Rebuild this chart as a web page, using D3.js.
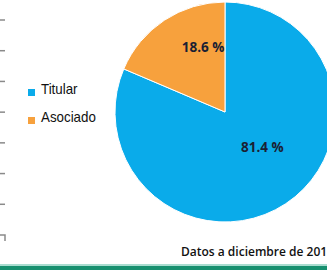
<!DOCTYPE html>
<html>
<head>
<meta charset="utf-8">
<script src="https://cdn.jsdelivr.net/npm/d3@7"></script>
<style>
  body { margin: 0; background: #fff; }
  svg { display: block; }
</style>
</head>
<body>
<div id="chart"></div>
<script>
// datos del gráfico
const categories = ["Titular", "Asociado"];
const values = [81.4, 18.6];
const colors = ["#0aabea", "#f7a13d"];
const caption = "Datos a diciembre de 201";

const width = 327;
const height = 270;

const svg = d3.select("#chart")
    .append("svg")
    .attr("width", width)
    .attr("height", height);

// marcas del eje a la izquierda (restos del gráfico original)
const tickScale = d3.scaleLinear().domain([0, 7]).range([20, 235]);
svg.append("g")
    .selectAll("line")
    .data(d3.range(7))
    .enter()
    .append("line")
    .attr("x1", 0)
    .attr("x2", 5)
    .attr("y1", (d) => tickScale(d))
    .attr("y2", (d) => tickScale(d))
    .style("stroke", "#8a8a8a")
    .style("stroke-width", 1.5);
svg.append("path")
    .attr("d", `M0,${tickScale(7)}H5V${tickScale(7) + 6}`)
    .style("fill", "none")
    .style("stroke", "#8a8a8a")
    .style("stroke-width", 1.5);

// pastel
const cx = 225, cy = 112, r = 110;
const pie = d3.pie().sort(null).value((d) => d);
const arcs = pie(values);
const arc = d3.arc().innerRadius(0).outerRadius(r);

const g = svg.append("g").attr("transform", `translate(${cx},${cy})`);
g.selectAll("path")
    .data(arcs)
    .enter()
    .append("path")
    .attr("d", arc)
    .style("fill", (d, i) => colors[i])
    .style("stroke", "#fff")
    .style("stroke-width", 1);

// etiquetas: posición dentro de cada porción (fracción del ángulo, fracción del radio)
function labelPos(d, i) {
    const f = i === 0 ? 0.456 : 0.72;
    const rr = i === 0 ? 0.47 * r : 0.62 * r;
    const a = d.startAngle + f * (d.endAngle - d.startAngle);
    return [rr * Math.sin(a), -rr * Math.cos(a)];
}
g.selectAll("text")
    .data(arcs)
    .enter()
    .append("text")
    .attr("transform", (d, i) => `translate(${labelPos(d, i)})`)
    .attr("text-anchor", "middle")
    .attr("dy", "0.35em")
    .style("font-family", "'Open Sans', 'DejaVu Sans', sans-serif")
    .style("font-weight", "bold")
    .style("font-size", "13.5px")
    .style("fill", "#1b1f33")
    .text((d) => d3.format(".1f")(d.data) + " %");

// leyenda
const legend = svg.append("g")
    .selectAll("g")
    .data(categories)
    .enter()
    .append("g")
    .attr("transform", (d, i) => `translate(28,${89 + i * 28})`);
legend.append("rect")
    .attr("width", 7)
    .attr("height", 7)
    .style("fill", (d, i) => colors[i]);
legend.append("text")
    .attr("transform", "translate(13,5) scale(0.92,1)")
    .style("font-family", "'Liberation Sans', Arial, sans-serif")
    .style("font-size", "14.5px")
    .style("fill", "#111")
    .text((d) => d);

// nota
svg.append("text")
    .attr("x", 181)
    .attr("y", 256)
    .style("font-family", "'Open Sans', sans-serif")
    .style("font-weight", 600)
    .style("font-size", "12px")
    .style("fill", "#111")
    .text(caption);

// franja inferior
svg.append("rect").attr("x", 0).attr("y", 264).attr("width", width).attr("height", 2).style("fill", "#a9ddd0");
svg.append("rect").attr("x", 0).attr("y", 266).attr("width", width).attr("height", 4).style("fill", "#17906f");
</script>
</body>
</html>
